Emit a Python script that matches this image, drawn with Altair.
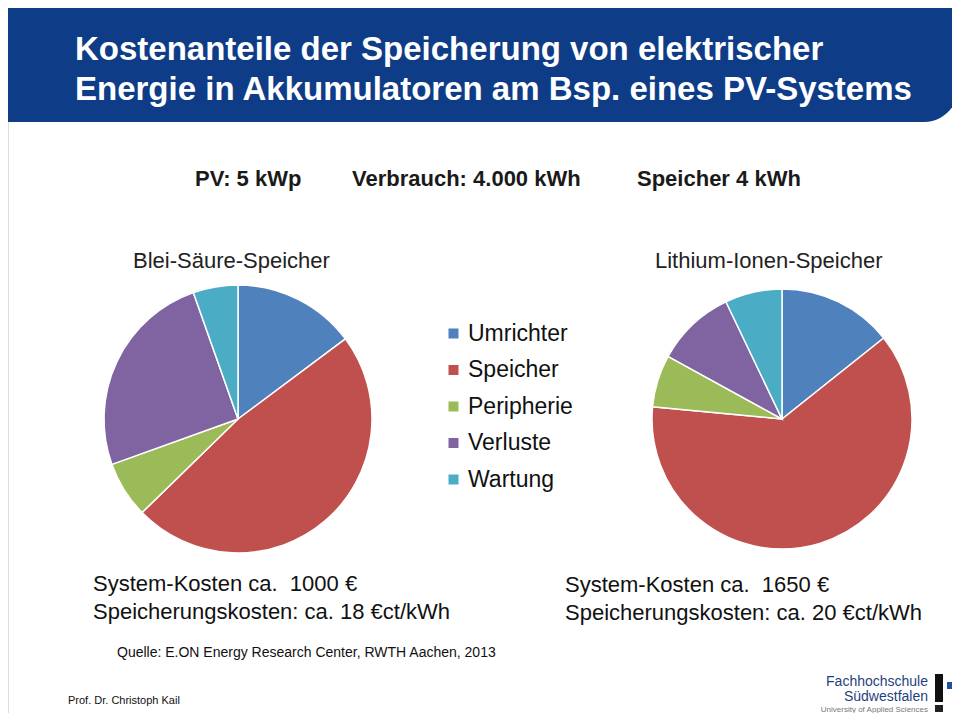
import altair as alt
import pandas as pd

# ---- data ----
categories = ["Umrichter", "Speicher", "Peripherie", "Verluste", "Wartung"]
blei_saeure = [14.8, 47.9, 6.8, 25.1, 5.4]
lithium_ionen = [14.3, 62.2, 6.5, 9.9, 7.1]
colors = ["#4F81BD", "#C0504D", "#9BBB59", "#8064A2", "#4BACC6"]

title_lines = ["Kostenanteile der Speicherung von elektrischer",
               "Energie in Akkumulatoren am Bsp. eines PV-Systems"]
header_items = ["PV: 5 kWp", "Verbrauch: 4.000 kWh", "Speicher 4 kWh"]
pie_titles = ["Blei-Säure-Speicher", "Lithium-Ionen-Speicher"]
left_costs = ["System-Kosten ca.\u00a0 1000 €", "Speicherungskosten: ca. 18 €ct/kWh"]
right_costs = ["System-Kosten ca.\u00a0 1650 €", "Speicherungskosten: ca. 20 €ct/kWh"]
source_text = "Quelle: E.ON Energy Research Center, RWTH Aachen, 2013"
author_text = "Prof. Dr. Christoph Kail"
logo_lines = ["Fachhochschule", "Südwestfalen", "University of Applied Sciences"]

FONT = "Liberation Sans"
OX, OY = 8, 8  # page margin offset


def txt(s, x, y, size, weight="normal", color="#000000", align="left"):
    return alt.Chart(pd.DataFrame({"t": [s]})).mark_text(
        align=align, baseline="alphabetic", fontSize=size, fontWeight=weight,
        color=color, font=FONT
    ).encode(x=alt.value(x - OX), y=alt.value(y - OY), text="t:N")


def box(x1, y1, x2, y2, color, **kw):
    return alt.Chart(pd.DataFrame({"a": [0]})).mark_rect(color=color, **kw).encode(
        x=alt.value(x1 - OX), x2=alt.value(x2 - OX),
        y=alt.value(y1 - OY), y2=alt.value(y2 - OY))


color_scale = alt.Scale(domain=categories, range=colors)


def pie(values, cx, cy, r, legend):
    df = pd.DataFrame({"Kategorie": categories, "Anteil": values,
                       "idx": list(range(len(categories)))})
    enc_color = alt.Color(
        "Kategorie:N", scale=color_scale,
        legend=alt.Legend(
            orient="none", legendX=434, legendY=314, title=None,
            symbolType="square", symbolSize=100, symbolStrokeWidth=0,
            labelFontSize=23, labelFont=FONT, labelColor="#111111",
            rowPadding=12.5, labelOffset=3, symbolOpacity=1,
        ) if legend else None,
        sort=categories,
    )
    return alt.Chart(df).mark_arc(
        outerRadius=r, stroke="white", strokeWidth=1.5, opacity=1
    ).encode(
        theta=alt.Theta("Anteil:Q", stack=True),
        color=enc_color,
        order=alt.Order("idx:Q"),
        x=alt.value(cx - OX), y=alt.value(cy - OY),
    )


layers = []
# title banner
layers.append(box(4, 2, 958, 122, "#0E3C87", cornerRadiusBottomRight=34))
layers.append(txt(title_lines[0], 75, 60, 33, "bold", "white"))
layers.append(txt(title_lines[1], 75, 100, 33, "bold", "white"))

# header line
layers.append(txt(header_items[0], 195, 186, 22, "bold", "#1a1a1a"))
layers.append(txt(header_items[1], 352, 186, 22, "bold", "#1a1a1a"))
layers.append(txt(header_items[2], 637, 186, 22, "bold", "#1a1a1a"))

# pie titles
layers.append(txt(pie_titles[0], 133, 268, 22, "normal", "#222222"))
layers.append(txt(pie_titles[1], 655, 268, 22, "normal", "#222222"))

# pies
layers.append(pie(blei_saeure, 238, 419, 134, True))
layers.append(pie(lithium_ionen, 782, 419, 130, False))

# costs
layers.append(txt(left_costs[0], 93, 591, 22, "normal", "#111111"))
layers.append(txt(left_costs[1], 93, 619, 22, "normal", "#111111"))
layers.append(txt(right_costs[0], 565, 592, 22, "normal", "#111111"))
layers.append(txt(right_costs[1], 565, 620, 22, "normal", "#111111"))

# source / footer
layers.append(txt(source_text, 117, 657, 14, "normal", "#111111"))
layers.append(txt(author_text, 68, 704, 11, "normal", "#111111"))

# logo
layers.append(txt(logo_lines[0], 928, 686, 14, "normal", "#1f3f7f", align="right"))
layers.append(txt(logo_lines[1], 928, 701, 14, "normal", "#1f3f7f", align="right"))
layers.append(txt(logo_lines[2], 928, 712, 8, "normal", "#777777", align="right"))
layers.append(box(935, 674, 943, 702, "#111111"))
layers.append(box(947, 682, 954, 689, "#1f4f9f"))
layers.append(box(935, 705, 943, 712, "#222222"))

chart = alt.layer(*layers).resolve_scale(theta="independent").properties(
    width=944, height=705,
    autosize=alt.AutoSizeParams(type="none"),
    padding=0,
).configure_view(stroke=None).configure(background="white")

chart.save("out.html", embed_options={"renderer": "svg", "actions": False})
